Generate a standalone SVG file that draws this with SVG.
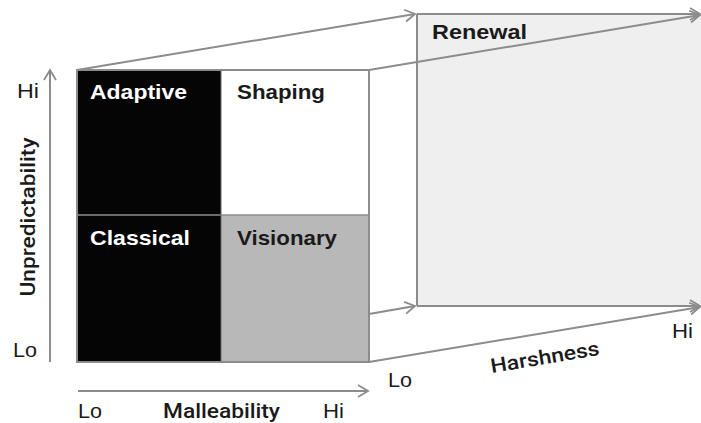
<svg xmlns="http://www.w3.org/2000/svg" width="701" height="423" viewBox="0 0 701 423">
<style>
.ln{stroke:#8c8c8c;stroke-width:2;fill:none}
.q{font-family:"Liberation Sans",Arial,sans-serif;font-weight:bold;font-size:21px}
.ax{font-family:Roboto,"Liberation Sans",sans-serif;font-weight:500;font-size:20px;fill:#1a1a1a}
.tk{font-family:"Liberation Sans",Arial,sans-serif;font-size:20px;fill:#1a1a1a}
</style>
<defs>
<marker id="ah" markerUnits="userSpaceOnUse" markerWidth="16" markerHeight="16" refX="12" refY="8" orient="auto">
<path d="M2,2 L12,8 L2,14" fill="none" stroke="#8c8c8c" stroke-width="1.8"/>
</marker>
</defs>
<rect width="701" height="423" fill="#ffffff"/>
<g id="renewal">
<rect x="417" y="14" width="300" height="292" fill="#efefef"/>
<line class="ln" x1="417" y1="14" x2="417" y2="306"/>
<text class="q" x="432" y="39" fill="#1a1a1a" textLength="95" lengthAdjust="spacingAndGlyphs">Renewal</text>
</g>
<g id="connectors">
<line class="ln" x1="417" y1="14" x2="700" y2="14" marker-end="url(#ah)"/>
<line class="ln" x1="417" y1="306" x2="700" y2="306" marker-end="url(#ah)"/>
<line class="ln" x1="77" y1="70" x2="415" y2="14" marker-end="url(#ah)"/>
<line class="ln" x1="369" y1="70" x2="700" y2="15" marker-end="url(#ah)"/>
<line class="ln" x1="369" y1="314" x2="415" y2="306" marker-end="url(#ah)"/>
<line class="ln" x1="369" y1="362" x2="700" y2="307" marker-end="url(#ah)"/>
<line class="ln" x1="50" y1="362" x2="50" y2="70" marker-end="url(#ah)"/>
<line class="ln" x1="78" y1="391" x2="368" y2="391" marker-end="url(#ah)"/>
</g>
<g id="adaptive">
<rect x="77" y="70" width="144" height="145" fill="#050505"/>
<text class="q" x="90" y="99" fill="#ffffff" textLength="97" lengthAdjust="spacingAndGlyphs">Adaptive</text>
</g>
<g id="shaping">
<rect x="221" y="70" width="148" height="145" fill="#ffffff"/>
<text class="q" x="237" y="99" fill="#1a1a1a" textLength="88" lengthAdjust="spacingAndGlyphs">Shaping</text>
</g>
<g id="classical">
<rect x="77" y="215" width="144" height="147" fill="#050505"/>
<text class="q" x="90" y="245" fill="#ffffff" textLength="100" lengthAdjust="spacingAndGlyphs">Classical</text>
</g>
<g id="visionary">
<rect x="221" y="215" width="148" height="147" fill="#b8b8b8"/>
<text class="q" x="237" y="245" fill="#1a1a1a" textLength="100" lengthAdjust="spacingAndGlyphs">Visionary</text>
</g>
<g id="grid-outline">
<rect class="ln" x="77" y="70" width="292" height="292"/>
<line x1="77" y1="215" x2="369" y2="215" stroke="#8c8c8c" stroke-width="1.5"/>
<line x1="221" y1="70" x2="221" y2="362" stroke="#6a6a6a" stroke-width="1"/>
</g>
<g id="labels">
<text class="tk" x="17" y="98" textLength="22" lengthAdjust="spacingAndGlyphs">Hi</text>
<text class="tk" x="13" y="357" textLength="24" lengthAdjust="spacingAndGlyphs">Lo</text>
<text class="ax" transform="translate(35,217) rotate(-90)" text-anchor="middle" textLength="159" lengthAdjust="spacingAndGlyphs">Unpredictability</text>
<text class="tk" x="78" y="418" textLength="24" lengthAdjust="spacingAndGlyphs">Lo</text>
<text class="ax" x="163" y="418" textLength="117" lengthAdjust="spacingAndGlyphs">Malleability</text>
<text class="tk" x="323" y="418" textLength="21" lengthAdjust="spacingAndGlyphs">Hi</text>
<text class="tk" x="388" y="387" textLength="24" lengthAdjust="spacingAndGlyphs">Lo</text>
<text class="ax" transform="translate(546,364) rotate(-9.5)" text-anchor="middle" textLength="110" lengthAdjust="spacingAndGlyphs">Harshness</text>
<text class="tk" x="672" y="338" textLength="21" lengthAdjust="spacingAndGlyphs">Hi</text>
</g>
</svg>
